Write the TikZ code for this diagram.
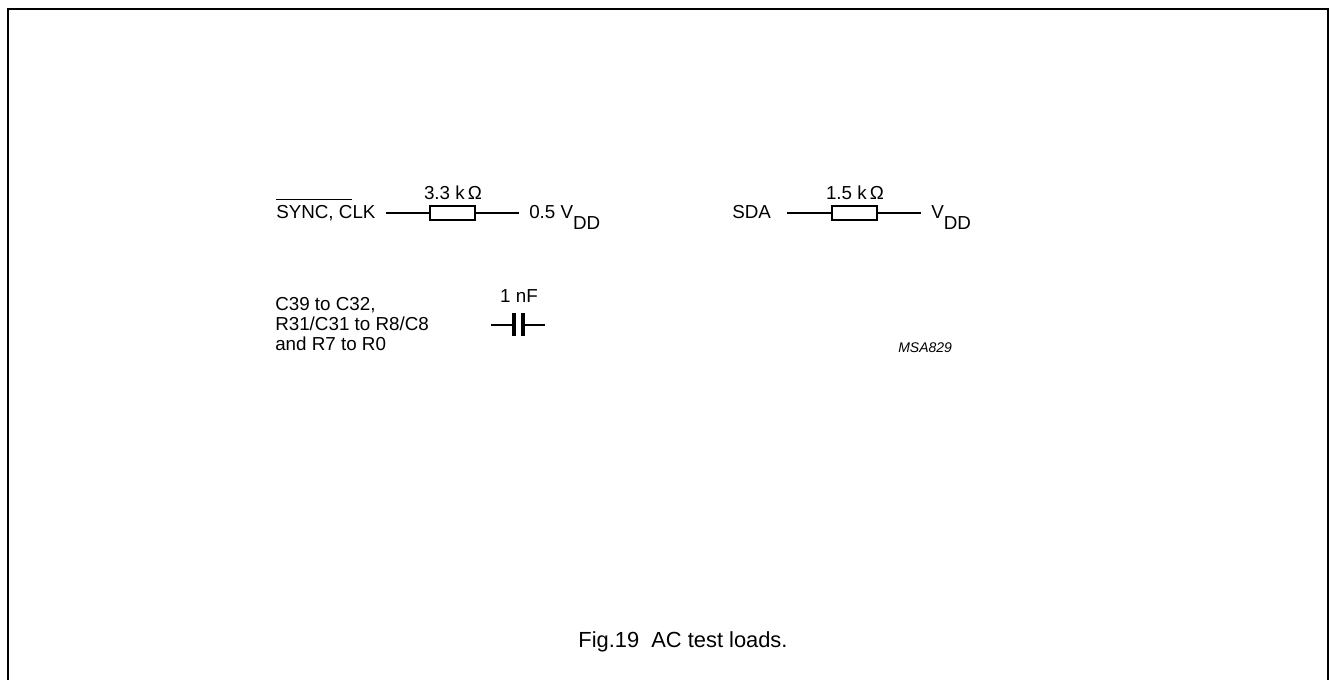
\documentclass[tikz,border=0pt]{standalone}
\usepackage{fontspec}
\setmainfont{Liberation Sans}
\newcommand{\vdd}{V\raisebox{-8pt}{DD}}
\newcommand{\barred}[1]{\rlap{\raisebox{14.1pt}{\rule{#1}{0.8pt}}}}
\tikzset{
    lbl/.style={inner sep=0pt, font=\fontsize{14.1pt}{15.5pt}\selectfont},
    res/.style={draw, minimum width=33.75pt, minimum height=10.5pt, inner sep=0pt, line width=0.9pt},
    lead/.style={line width=1.1pt},
    plate/.style={line width=2.8pt}
}
\begin{document}
\begin{tikzpicture}[x=0.75pt,y=-0.75pt]
    \useasboundingbox (0,0) rectangle (1329,680);
    \draw[line width=1.5pt] (8,680) -- (8,9.3) -- (1327.7,9.3) -- (1327.7,680);
    % left resistor
    \node[lbl, anchor=base west] (sync) at (276,219) {\barred{56.5pt}SYNC, CLK};
    \node[res] (r1) at (452.5,213) {};
    \coordinate (r1a) at (386,213);
    \coordinate (r1b) at (519,213);
    \draw[lead] (r1a) -- (r1);
    \draw[lead] (r1) -- (r1b);
    \node[lbl, anchor=base] (r1val) at (453,200) {3.3 k\,Ω};
    \node[lbl, anchor=base west] (half) at (529,219) {0.5 \vdd};
    % right resistor
    \node[lbl, anchor=base west] (sda) at (732,219) {SDA};
    \node[res] (r2) at (854.5,213) {};
    \coordinate (r2a) at (787,213);
    \coordinate (r2b) at (921,213);
    \draw[lead] (r2a) -- (r2);
    \draw[lead] (r2) -- (r2b);
    \node[lbl, anchor=base] (r2val) at (855,200) {1.5 k\,Ω};
    \node[lbl, anchor=base west] (vdd) at (931,219) {\vdd};
    % capacitor
    \node[lbl, anchor=base west] (pins) at (275,311) {C39 to C32,};
    \node[lbl, anchor=base west] (pins2) at (275,331) {R31/C31 to R8/C8};
    \node[lbl, anchor=base west] (pins3) at (275,351) {and R7 to R0};
    \node[lbl, anchor=base] (c1val) at (519,303) {1 nF};
    \coordinate (c1a) at (491,325);
    \coordinate (c1b) at (545,325);
    \coordinate (p1) at (514,325);
    \coordinate (p2) at (523,325);
    \draw[lead] (c1a) -- (p1);
    \draw[lead] (p2) -- (c1b);
    \draw[plate] (514,313) -- (514,336);
    \draw[plate] (523,313) -- (523,336);
    \node[anchor=base west, inner sep=0pt, font=\fontsize{10.5pt}{12pt}\selectfont\itshape] (code) at (898,353) {MSA829};
    \node[anchor=base, inner sep=0pt, font=\fontsize{16.4pt}{18pt}\selectfont] (cap) at (683,648) {Fig.19\ \ AC test loads.};
\end{tikzpicture}
\end{document}
